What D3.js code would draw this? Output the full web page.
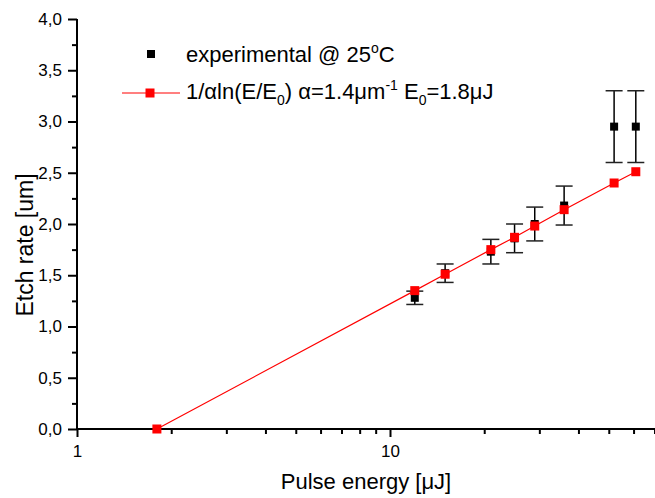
<!DOCTYPE html>
<html>
<head>
<meta charset="utf-8">
<script src="https://cdn.jsdelivr.net/npm/d3@7"></script>
<style>
  body { margin: 0; background: #fff; }
  svg { display: block; font-family: Arial, "Liberation Sans", sans-serif; }
</style>
</head>
<body>
<div class="canvas"></div>
<script>
// experimental points (pulse energy in uJ, etch rate in um, error half-width)
const energy = [12, 15, 21, 25, 29, 36, 52, 61];
const etchRate = [1.28, 1.52, 1.73, 1.86, 2.00, 2.18, 2.95, 2.95];
const etchErr = [0.065, 0.09, 0.12, 0.14, 0.165, 0.19, 0.35, 0.35];

// fitted curve 1/a ln(E/E0)
const fitEnergy = [1.8, 12, 15, 21, 25, 29, 36, 52, 61];
const fitRate = [0, 1.35, 1.51, 1.75, 1.87, 1.98, 2.14, 2.40, 2.51];

const xMajor = [1, 10, 100];
const xMinor = [2, 3, 4, 5, 6, 7, 8, 9, 20, 30, 40, 50, 60, 70, 80, 90];
const yMajor = [0, 0.5, 1, 1.5, 2, 2.5, 3, 3.5, 4];
const yMinor = [0.25, 0.75, 1.25, 1.75, 2.25, 2.75, 3.25, 3.75];

const width = 655;
const height = 498;
const margin = { top: 19, left: 77, bottom: 69 };
const decade = 313;

const svg = d3.select('.canvas')
   .append('svg')
   .attr('width', width)
   .attr('height', height);

const x = d3.scaleLog()
   .domain([1, 100])
   .range([margin.left, margin.left + 2 * decade]);
const y = d3.scaleLinear()
   .domain([0, 4])
   .range([height - margin.bottom, margin.top]);

const commaFmt = d => d3.format('.1f')(d).replace('.', ',');

// axes
const xAxisGroup = svg.append('g')
   .attr('transform', `translate(0, ${y(0)})`)
   .call(d3.axisBottom(x).tickValues(xMajor).tickSize(8).tickPadding(8)
      .tickFormat(d => d < 100 ? d : ''));
svg.append('g')
   .attr('transform', `translate(0, ${y(0)})`)
   .call(d3.axisBottom(x).tickValues(xMinor).tickSize(5).tickFormat(''))
   .select('.domain').remove();

const yAxisGroup = svg.append('g')
   .attr('transform', `translate(${x(1)}, 0)`)
   .call(d3.axisLeft(y).tickValues(yMajor).tickSize(9).tickPadding(6).tickFormat(commaFmt));
svg.append('g')
   .attr('transform', `translate(${x(1)}, 0)`)
   .call(d3.axisLeft(y).tickValues(yMinor).tickSize(5).tickFormat(''))
   .select('.domain').remove();

svg.selectAll('.domain, .tick line')
   .attr('stroke', '#000')
   .attr('stroke-width', 2);
xAxisGroup.select('.domain').attr('d', `M${x(1)},0H${x(100)}`);
yAxisGroup.select('.domain').attr('d', `M0,${y(4)}V${y(0)}`);

svg.selectAll('.tick text')
   .attr('fill', '#000')
   .style('font-size', '17px')
   .style('font-family', 'Arial, "Liberation Sans", sans-serif');

// axis titles
svg.append('text')
   .attr('x', 366)
   .attr('y', 489)
   .attr('text-anchor', 'middle')
   .style('font-size', '22px')
   .text('Pulse energy [\u03bcJ]');

svg.append('text')
   .attr('transform', 'translate(33, 245) rotate(-90)')
   .attr('text-anchor', 'middle')
   .style('font-size', '23px')
   .text('Etch rate [um]');

// experimental data with error bars
const expData = energy.map((e, i) => ({ e: e, r: etchRate[i], err: etchErr[i] }));
const capHalf = 8.5;

const bars = svg.append('g').attr('class', 'errorbars');
bars.selectAll('line.vert')
   .data(expData)
   .enter()
   .append('line')
      .attr('class', 'vert')
      .attr('x1', d => x(d.e))
      .attr('x2', d => x(d.e))
      .attr('y1', d => y(d.r + d.err))
      .attr('y2', d => y(d.r - d.err))
      .attr('stroke', '#000')
      .attr('stroke-width', 1.5);
[1, -1].forEach(s => {
   bars.selectAll(`line.cap${s}`)
      .data(expData)
      .enter()
      .append('line')
         .attr('x1', d => x(d.e) - capHalf)
         .attr('x2', d => x(d.e) + capHalf)
         .attr('y1', d => y(d.r + s * d.err))
         .attr('y2', d => y(d.r + s * d.err))
         .attr('stroke', '#222')
         .attr('stroke-width', 1.5);
});

const blackSize = 8;
svg.append('g').selectAll('rect')
   .data(expData)
   .enter()
   .append('rect')
      .attr('x', d => x(d.e) - blackSize / 2)
      .attr('y', d => y(d.r) - blackSize / 2)
      .attr('width', blackSize)
      .attr('height', blackSize)
      .attr('fill', '#000');

// fit line
const fitData = fitEnergy.map((e, i) => ({ e: e, r: fitRate[i] }));
const line = d3.line()
   .x(d => x(d.e))
   .y(d => y(d.r));

svg.append('path')
   .datum(fitData)
   .attr('fill', 'none')
   .attr('stroke', '#ff0000')
   .attr('stroke-width', 1.2)
   .attr('d', line);

const redSize = 9;
svg.append('g').selectAll('rect')
   .data(fitData)
   .enter()
   .append('rect')
      .attr('x', d => x(d.e) - redSize / 2)
      .attr('y', d => y(d.r) - redSize / 2)
      .attr('width', redSize)
      .attr('height', redSize)
      .attr('fill', '#ff0000');

// legend
const legend = svg.append('g').style('font-size', '22px');

legend.append('rect')
   .attr('x', 151 - blackSize / 2)
   .attr('y', 54 - blackSize / 2)
   .attr('width', blackSize)
   .attr('height', blackSize)
   .attr('fill', '#000');

const t1 = legend.append('text')
   .attr('x', 186)
   .attr('y', 62);
t1.append('tspan').text('experimental @ 25');
t1.append('tspan').attr('dy', -9).style('font-size', '14px').text('o');
t1.append('tspan').attr('dy', 9).text('C');

legend.append('line')
   .attr('x1', 122)
   .attr('x2', 180)
   .attr('y1', 93)
   .attr('y2', 93)
   .attr('stroke', '#ff0000')
   .attr('stroke-width', 1.2);
legend.append('rect')
   .attr('x', 150 - redSize / 2)
   .attr('y', 93 - redSize / 2)
   .attr('width', redSize)
   .attr('height', redSize)
   .attr('fill', '#ff0000');

const t2 = legend.append('text')
   .attr('x', 186)
   .attr('y', 99);
t2.append('tspan').text('1/\u03b1ln(E/E');
t2.append('tspan').attr('dy', 6).style('font-size', '14px').text('0');
t2.append('tspan').attr('dy', -6).text(') \u03b1=1.4\u03bcm');
t2.append('tspan').attr('dy', -9).style('font-size', '14px').text('-1');
t2.append('tspan').attr('dy', 9).text(' E');
t2.append('tspan').attr('dy', 6).style('font-size', '14px').text('0');
t2.append('tspan').attr('dy', -6).text('=1.8\u03bcJ');
</script>
</body>
</html>
